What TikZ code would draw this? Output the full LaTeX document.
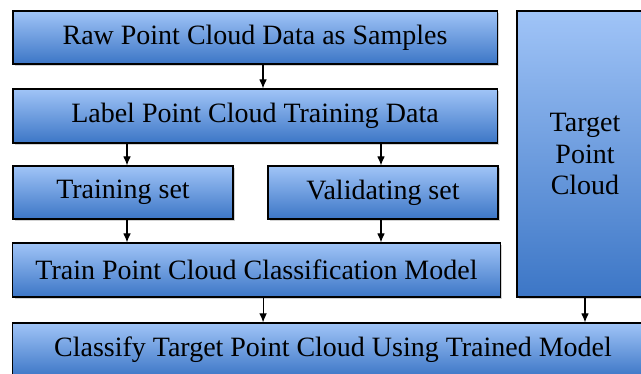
\documentclass[tikz,border=0pt]{standalone}
\usepackage{fontspec}
\setmainfont{Liberation Serif}
\usetikzlibrary{arrows, arrows.meta, shadows}

\tikzset{
  stage/.style={draw=black, line width=0.8pt, top color=boxtop, bottom color=boxbot,
    drop shadow={shadow xshift=1.2pt, shadow yshift=-1.2pt, opacity=0.35},
    inner sep=0pt, align=center, font=\fontsize{19.9}{22.2}\selectfont},
}
\definecolor{boxtop}{RGB}{160,196,247}
\definecolor{boxbot}{RGB}{60,118,198}

\begin{document}
\begin{tikzpicture}[x=0.025cm, y=-0.025cm, ->, >={Latex[length=6.5pt,width=5.5pt]}, line width=0.8pt]
  \clip (0,0) rectangle (641,374);
  \useasboundingbox (0,0) rectangle (641,374);
  \node[stage, minimum width=12.1cm, minimum height=1.325cm] (raw) at (255,37.5) {Raw Point Cloud Data as Samples};
  \node[stage, minimum width=12.1cm, minimum height=1.35cm] (lbl) at (255,116) {Label Point Cloud Training Data};
  \node[stage, minimum width=5.5cm, minimum height=1.325cm] (trn) at (123,192.5) {Training set};
  \node[stage, minimum width=5.75cm, minimum height=1.325cm] (val) at (383,192.5) {Validating set};
  \node[stage, minimum width=12.175cm, minimum height=1.35cm] (mdl) at (256.5,270) {Train Point Cloud Classification Model};
  \node[stage, minimum width=3.4cm, minimum height=7.15cm] (tgt) at (585,154) {Target\\Point\\Cloud};
  \node[stage, minimum width=16cm, minimum height=1.35cm] (cls) at (333,350) {Classify Target Point Cloud Using Trained Model};
  % down the left column
  \draw ([xshift=0.2cm]raw.south) -- ([xshift=0.2cm]lbl.north);
  \draw ([xshift=0.1cm]trn.north |- lbl.south) -- ([xshift=0.1cm]trn.north);
  \draw ([xshift=-0.05cm]val.north |- lbl.south) -- ([xshift=-0.05cm]val.north);
  \draw ([xshift=0.1cm]trn.south) -- ([xshift=0.1cm]trn.south |- mdl.north);
  \draw ([xshift=-0.05cm]val.south) -- ([xshift=-0.05cm]val.south |- mdl.north);
  % into the last stage
  \draw ([xshift=0.165cm]mdl.south) -- ([xshift=0.165cm]mdl.south |- cls.north);
  \draw (tgt.south) -- (tgt.south |- cls.north);
\end{tikzpicture}
\end{document}
